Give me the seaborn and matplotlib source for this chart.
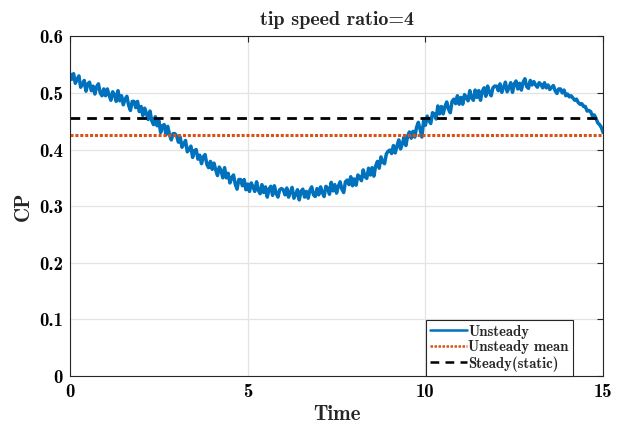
import numpy as np
import seaborn as sns
import matplotlib.pyplot as plt

# datos (paso de tiempo 0.05)
time = np.round(np.arange(0, 15.001, 0.05), 2)
cp_unsteady = [
    0.534, 0.524, 0.534, 0.517, 0.524, 0.530, 0.510, 0.515, 0.522, 0.503,
    0.516, 0.519, 0.504, 0.512, 0.498, 0.511, 0.516, 0.500, 0.495, 0.507,
    0.495, 0.507, 0.496, 0.487, 0.502, 0.497, 0.485, 0.504, 0.486, 0.495,
    0.479, 0.489, 0.494, 0.478, 0.469, 0.485, 0.485, 0.474, 0.485, 0.467,
    0.476, 0.460, 0.473, 0.464, 0.453, 0.468, 0.451, 0.444, 0.458, 0.442,
    0.451, 0.430, 0.442, 0.444, 0.426, 0.441, 0.426, 0.417, 0.428, 0.428,
    0.424, 0.413, 0.422, 0.404, 0.410, 0.416, 0.396, 0.400, 0.406, 0.386,
    0.398, 0.400, 0.383, 0.390, 0.375, 0.387, 0.391, 0.374, 0.368, 0.379,
    0.365, 0.376, 0.364, 0.354, 0.369, 0.363, 0.350, 0.368, 0.350, 0.358,
    0.341, 0.350, 0.355, 0.339, 0.330, 0.347, 0.347, 0.336, 0.347, 0.329,
    0.339, 0.326, 0.341, 0.334, 0.326, 0.343, 0.328, 0.322, 0.338, 0.324,
    0.334, 0.316, 0.330, 0.335, 0.319, 0.336, 0.323, 0.316, 0.329, 0.331,
    0.329, 0.320, 0.332, 0.316, 0.325, 0.333, 0.314, 0.320, 0.329, 0.311,
    0.326, 0.330, 0.316, 0.326, 0.314, 0.328, 0.334, 0.320, 0.317, 0.331,
    0.320, 0.334, 0.324, 0.317, 0.335, 0.332, 0.321, 0.342, 0.327, 0.338,
    0.323, 0.335, 0.343, 0.330, 0.324, 0.343, 0.346, 0.338, 0.352, 0.336,
    0.348, 0.337, 0.355, 0.351, 0.345, 0.364, 0.352, 0.349, 0.367, 0.355,
    0.368, 0.353, 0.371, 0.379, 0.367, 0.387, 0.378, 0.375, 0.392, 0.397,
    0.399, 0.393, 0.407, 0.394, 0.406, 0.417, 0.401, 0.410, 0.422, 0.407,
    0.424, 0.431, 0.420, 0.432, 0.422, 0.439, 0.448, 0.436, 0.422, 0.451,
    0.443, 0.459, 0.451, 0.446, 0.465, 0.463, 0.454, 0.477, 0.463, 0.476,
    0.463, 0.476, 0.484, 0.471, 0.465, 0.485, 0.489, 0.481, 0.495, 0.480,
    0.492, 0.480, 0.497, 0.492, 0.486, 0.504, 0.491, 0.487, 0.505, 0.492,
    0.504, 0.487, 0.503, 0.509, 0.494, 0.512, 0.501, 0.495, 0.509, 0.512,
    0.512, 0.504, 0.516, 0.501, 0.510, 0.519, 0.502, 0.509, 0.518, 0.501,
    0.516, 0.521, 0.507, 0.517, 0.505, 0.519, 0.525, 0.511, 0.508, 0.522,
    0.514, 0.520, 0.514, 0.510, 0.518, 0.515, 0.509, 0.518, 0.509, 0.514,
    0.506, 0.510, 0.513, 0.504, 0.499, 0.507, 0.507, 0.500, 0.505, 0.495,
    0.498, 0.493, 0.495, 0.491, 0.487, 0.489, 0.483, 0.480, 0.481, 0.476,
    0.476, 0.468, 0.469, 0.467, 0.459, 0.461, 0.455, 0.447, 0.444, 0.439,
    0.430,
]
cp_mean = 0.425
cp_steady = 0.455
xticks = [0, 5, 10, 15]
yticks = [0, 0.1, 0.2, 0.3, 0.4, 0.5, 0.6]
ytick_labels = ['0', '0.1', '0.2', '0.3', '0.4', '0.5', '0.6']

sns.set_style("white")
plt.rcParams['font.family'] = ['cmb10', 'DejaVu Serif']
plt.rcParams['font.weight'] = 'bold'

fig = plt.figure(figsize=(6.25, 4.3), dpi=100)
ax = fig.add_axes([0.112, 0.1256, 0.853, 0.790])

sns.lineplot(x=time, y=cp_unsteady, ax=ax, color='#0072BD', lw=2.5, label='Unsteady')
ax.axhline(cp_mean, color='#D95319', lw=2.2, ls=(0, (1, 0.6)), label='Unsteady mean')
ax.axhline(cp_steady, color='black', lw=2.0, ls=(0, (3.5, 2.5)), label='Steady(static)')

ax.set_xlim(0, 15)
ax.set_ylim(0, 0.6)
ax.set_xticks(xticks)
ax.set_yticks(yticks)
ax.set_yticklabels(ytick_labels)
ax.grid(True, color='#e3e3e3', lw=0.9)
ax.tick_params(direction='in', length=4, top=True, right=True, labelsize=13.5,
               color='#262626', labelcolor='black', pad=5)
for s in ax.spines.values():
    s.set_color('#262626')
    s.set_linewidth(0.8)

ax.set_title('tip speed ratio=4', fontsize=14.5, pad=8)
ax.set_xlabel('Time', fontsize=15, va='center')
ax.set_ylabel('CP', fontsize=15, va='center')
ax.xaxis.set_label_coords(0.5, -0.112)
ax.yaxis.set_label_coords(-0.088, 0.5)

leg = ax.legend(loc='lower right', bbox_to_anchor=(0.9437, 0.0), fontsize=10.6,
                handlelength=2.5, handletextpad=0.1, borderpad=0.3,
                labelspacing=0.12, fancybox=False, framealpha=1, borderaxespad=0)
leg.get_frame().set_edgecolor('#262626')
leg.get_frame().set_linewidth(0.8)
for h in leg.get_lines():
    h.set_linewidth(1.8)

fig.savefig('out.png', dpi=100)
